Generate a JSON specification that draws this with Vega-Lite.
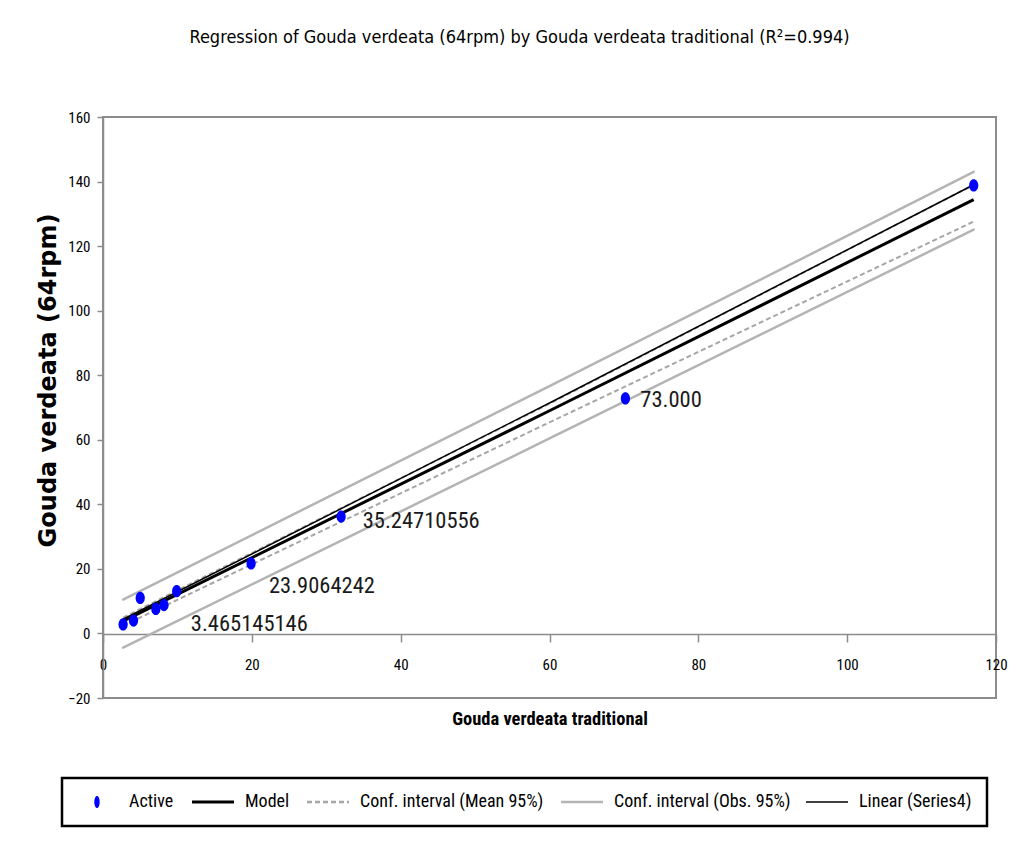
{
  "$schema": "https://vega.github.io/schema/vega-lite/v6.json",
  "width": 893,
  "height": 581,
  "autosize": {"type": "none"},
  "padding": {"left": 103, "top": 117, "right": 22, "bottom": 148},
  "background": "white",
  "title": {
    "text": "Regression of Gouda verdeata (64rpm) by Gouda verdeata traditional (R²=0.994)",
    "font": "DejaVu Sans Condensed",
    "fontSize": 18,
    "fontWeight": "normal",
    "color": "#000000",
    "anchor": "middle",
    "dx": -30,
    "offset": 49,
    "baseline": "alphabetic"
  },
  "config": {
    "view": {"stroke": "#8c8c8c", "strokeWidth": 2},
    "axis": {"grid": false}
  },
  "datasets": {
    "points": [
      {"series": "Active", "x": 2.7, "y": 2.8},
      {"series": "Active", "x": 4.1, "y": 4.0},
      {"series": "Active", "x": 5.0, "y": 11.0},
      {"series": "Active", "x": 7.1, "y": 7.6},
      {"series": "Active", "x": 8.2, "y": 8.8},
      {"series": "Active", "x": 9.9, "y": 13.1},
      {"series": "Active", "x": 19.9, "y": 21.7},
      {"series": "Active", "x": 32.0, "y": 36.2},
      {"series": "Active", "x": 70.2, "y": 72.8},
      {"series": "Active", "x": 117.0, "y": 138.8}
    ],
    "lines": [
      {"series": "Conf. interval (Obs. 95%)", "bound": "upper", "x": 2.7, "y": 10.5},
      {"series": "Conf. interval (Obs. 95%)", "bound": "upper", "x": 60, "y": 76.6},
      {"series": "Conf. interval (Obs. 95%)", "bound": "upper", "x": 117, "y": 143.0},
      {"series": "Conf. interval (Obs. 95%)", "bound": "lower", "x": 2.7, "y": -4.4},
      {"series": "Conf. interval (Obs. 95%)", "bound": "lower", "x": 60, "y": 60.4},
      {"series": "Conf. interval (Obs. 95%)", "bound": "lower", "x": 117, "y": 125.1},
      {"series": "Conf. interval (Mean 95%)", "bound": "upper", "x": 2.7, "y": 4.9},
      {"series": "Conf. interval (Mean 95%)", "bound": "upper", "x": 60, "y": 71.2},
      {"series": "Conf. interval (Mean 95%)", "bound": "upper", "x": 117, "y": 139.0},
      {"series": "Conf. interval (Mean 95%)", "bound": "lower", "x": 2.7, "y": 2.4},
      {"series": "Conf. interval (Mean 95%)", "bound": "lower", "x": 60, "y": 65.4},
      {"series": "Conf. interval (Mean 95%)", "bound": "lower", "x": 117, "y": 127.6},
      {"series": "Model", "bound": "fit", "x": 2.7, "y": 3.8},
      {"series": "Model", "bound": "fit", "x": 60, "y": 69.0},
      {"series": "Model", "bound": "fit", "x": 117, "y": 134.4},
      {"series": "Linear (Series4)", "bound": "fit", "x": 2.7, "y": 4.4},
      {"series": "Linear (Series4)", "bound": "fit", "x": 60, "y": 71.4},
      {"series": "Linear (Series4)", "bound": "fit", "x": 117, "y": 139.0}
    ],
    "labels": [
      {"label": "3.465145146", "x": 11.8, "y": 2.8},
      {"label": "23.9064242", "x": 22.3, "y": 14.6},
      {"label": "35.24710556", "x": 34.9, "y": 34.7},
      {"label": "73.000", "x": 72.2, "y": 72.4}
    ]
  },
  "layer": [
    {
      "data": {"name": "lines"},
      "transform": [{"filter": "datum.series === 'Conf. interval (Obs. 95%)'"}],
      "mark": {"type": "line", "strokeWidth": 2.5, "strokeCap": "round"},
      "encoding": {
        "x": {
          "field": "x", "type": "quantitative",
          "scale": {"domain": [0, 120], "nice": false, "zero": false},
          "axis": {
            "title": "Gouda verdeata traditional",
            "values": [0, 20, 40, 60, 80, 100, 120],
            "offset": -64,
            "domainColor": "#8c8c8c", "domainWidth": 1.5,
            "tickColor": "#8c8c8c", "tickWidth": 1.5, "tickSize": 8,
            "labelPadding": 15, "labelFlush": false, "labelOverlap": false,
            "labelFont": "Roboto Condensed", "labelFontSize": 15, "labelColor": "#000000",
            "titleFont": "Roboto Condensed", "titleFontSize": 18.5, "titleFontWeight": "bold", "titleColor": "#000000",
            "titleY": 84, "titleBaseline": "middle"
          }
        },
        "y": {
          "field": "y", "type": "quantitative",
          "scale": {"domain": [-20, 160], "nice": false, "zero": false},
          "axis": {
            "title": "Gouda verdeata (64rpm)",
            "values": [-20, 0, 20, 40, 60, 80, 100, 120, 140, 160],
            "domainColor": "#8c8c8c", "domainWidth": 1.5,
            "tickColor": "#8c8c8c", "tickWidth": 1.5, "tickSize": 6,
            "labelPadding": 7, "labelOverlap": false, "labelFlush": false,
            "labelFont": "Roboto Condensed", "labelFontSize": 15, "labelColor": "#000000",
            "titleFont": "DejaVu Sans", "titleFontSize": 24, "titleFontWeight": "bold", "titleColor": "#000000",
            "titleX": -55, "titleY": 263, "titleAngle": 270, "titleBaseline": "middle", "titleAlign": "center"
          }
        },
        "detail": {"field": "bound"},
        "color": {
          "field": "series", "type": "nominal",
          "scale": {
            "domain": ["Active", "Model", "Conf. interval (Mean 95%)", "Conf. interval (Obs. 95%)", "Linear (Series4)"],
            "range": ["#0000ff", "#000000", "#a6a6a6", "#b4b4b4", "#000000"]
          },
          "legend": {
            "title": null,
            "orient": "none",
            "legendX": -41,
            "legendY": 661,
            "direction": "horizontal",
            "columns": 5,
            "padding": 15,
            "columnPadding": 12,
            "labelOffset": 34,
            "labelLimit": 400,
            "labelFont": "Roboto Condensed",
            "labelFontSize": 18,
            "labelColor": "#000000",
            "strokeColor": "#000000",
            "encode": {
              "legend": {"update": {"strokeWidth": {"value": 2.5}}},
              "symbols": {
                "update": {
                  "shape": {"signal": "datum.value === 'Active' ? 'M1.1,-0.6A0.27,0.6 0 1,1 1.1,0.6A0.27,0.6 0 1,1 1.1,-0.6Z' : 'M-1,0L3.2,0'"},
                  "size": {"value": 400},
                  "fill": {"signal": "datum.value === 'Active' ? '#0000ff' : 'transparent'"},
                  "stroke": {"signal": "datum.value === 'Active' ? 'transparent' : ((datum.value === 'Model' || datum.value === 'Linear (Series4)') ? '#000000' : '#aaaaaa')"},
                  "strokeWidth": {"signal": "datum.value === 'Model' ? 3 : (datum.value === 'Linear (Series4)' ? 1.5 : (datum.value === 'Active' ? 0 : 2.5))"},
                  "strokeDash": {"signal": "datum.value === 'Conf. interval (Mean 95%)' ? [5, 3] : []"},
                  "opacity": {"value": 1}
                }
              }
            }
          }
        }
      }
    },
    {
      "data": {"name": "lines"},
      "transform": [{"filter": "datum.series === 'Conf. interval (Mean 95%)'"}],
      "mark": {"type": "line", "strokeWidth": 2, "strokeDash": [5, 3]},
      "encoding": {
        "x": {"field": "x", "type": "quantitative"},
        "y": {"field": "y", "type": "quantitative"},
        "detail": {"field": "bound"},
        "color": {"field": "series", "type": "nominal"}
      }
    },
    {
      "data": {"name": "lines"},
      "transform": [{"filter": "datum.series === 'Model'"}],
      "mark": {"type": "line", "strokeWidth": 3},
      "encoding": {
        "x": {"field": "x", "type": "quantitative"},
        "y": {"field": "y", "type": "quantitative"},
        "color": {"field": "series", "type": "nominal"}
      }
    },
    {
      "data": {"name": "lines"},
      "transform": [{"filter": "datum.series === 'Linear (Series4)'"}],
      "mark": {"type": "line", "strokeWidth": 1.5},
      "encoding": {
        "x": {"field": "x", "type": "quantitative"},
        "y": {"field": "y", "type": "quantitative"},
        "color": {"field": "series", "type": "nominal"}
      }
    },
    {
      "data": {"name": "points"},
      "mark": {"type": "point", "filled": true, "opacity": 1, "size": 150, "shape": "M0,-1A0.75,1 0 1,1 0,1A0.75,1 0 1,1 0,-1Z"},
      "encoding": {
        "x": {"field": "x", "type": "quantitative"},
        "y": {"field": "y", "type": "quantitative"},
        "color": {"field": "series", "type": "nominal"}
      }
    },
    {
      "data": {"name": "labels"},
      "mark": {"type": "text", "align": "left", "baseline": "middle", "font": "Roboto Condensed", "fontSize": 22.5, "color": "#1a1a1a"},
      "encoding": {
        "x": {"field": "x", "type": "quantitative"},
        "y": {"field": "y", "type": "quantitative"},
        "text": {"field": "label"}
      }
    }
  ]
}
